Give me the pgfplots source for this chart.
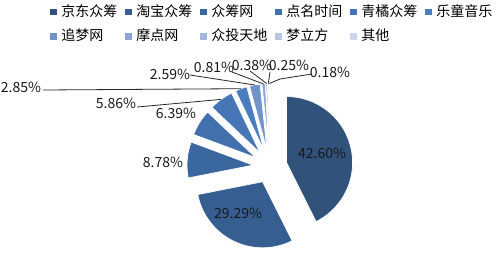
\documentclass[border=0pt]{standalone}
\usepackage{pgfplots}
\pgfplotsset{compat=1.18}
\usepackage{fontspec}
\setmainfont{Noto Sans CJK SC}
\definecolor{c1}{HTML}{31527A}
\definecolor{c2}{HTML}{365E90}
\definecolor{c3}{HTML}{3B679F}
\definecolor{c4}{HTML}{4170AC}
\definecolor{c5}{HTML}{4676B5}
\definecolor{c6}{HTML}{4A7DBF}
\definecolor{c7}{HTML}{7094C9}
\definecolor{c8}{HTML}{8CA6D3}
\definecolor{c9}{HTML}{A3B6DB}
\definecolor{c10}{HTML}{B8C6E3}
\definecolor{c11}{HTML}{CCD6EB}
\newcommand\cum{0}
% value, colour, name
\newcommand{\slice}[3]{%
  \pgfmathsetmacro{\sa}{90-3.6*\cum}%
  \pgfmathsetmacro{\ea}{90-3.6*(\cum+#1)}%
  \pgfmathsetmacro{\ma}{(\sa+\ea)/2}%
  \pgfmathsetmacro{\ox}{270+17*cos(\ma)}%
  \pgfmathsetmacro{\oy}{88.5+17*sin(\ma)}%
  \edef\temp{\noexpand\addplot[fill=#2, draw=white, line width=0.5pt, mark=none, domain=\ea:\sa, samples=60] ({\ox+66*cos(x)},{\oy+66*sin(x)}) -- (axis cs:\ox,\oy) -- cycle;}%
  \temp
  \addlegendentry{#3}%
  \pgfmathsetmacro{\newcum}{\cum+#1}%
  \xdef\cum{\newcum}%
}
\begin{document}
\begin{tikzpicture}
\begin{axis}[
  width=372pt, height=191.25pt, scale only axis,
  xmin=0, xmax=496, ymin=0, ymax=255,
  hide axis, clip=false,
  legend columns=6,
  legend cell align=left,
  legend image code/.code={\fill[#1,draw=none] (0pt,-3.2pt) rectangle (5.25pt,1.8pt);},
  legend style={at={(axis cs:50,251)}, anchor=north west, draw=none, fill=none, inner sep=0pt,
     nodes={inner sep=0pt, text width=43pt, align=left, font=\fontsize{10.5}{12}\selectfont},
     /tikz/every odd column/.style={column sep=3pt},
     /tikz/every even column/.style={column sep=5pt}, row sep=8pt},
]
\addplot[draw=none, mark=none, forget plot] coordinates {(0,0) (496,255)};
\slice{42.60}{c1}{京东众筹}
\slice{29.29}{c2}{淘宝众筹}
\slice{8.78}{c3}{众筹网}
\slice{6.39}{c4}{点名时间}
\slice{5.86}{c5}{青橘众筹}
\slice{2.85}{c6}{乐童音乐}
\slice{2.59}{c7}{追梦网}
\slice{0.81}{c8}{摩点网}
\slice{0.38}{c9}{众投天地}
\slice{0.25}{c10}{梦立方}
\slice{0.18}{c11}{其他}
% leader lines
\addplot[black!85, line width=0.6pt, mark=none, forget plot] coordinates {(43,165) (241,166.3)};
\addplot[black!85, line width=0.6pt, mark=none, forget plot] coordinates {(137,148) (221,155.6)};
\addplot[black!85, line width=0.6pt, mark=none, forget plot] coordinates {(190,180) (254.8,170)};
\addplot[black!85, line width=0.6pt, mark=none, forget plot] coordinates {(232,183) (263.6,171)};
\addplot[black!85, line width=0.6pt, mark=none, forget plot] coordinates {(250,184) (266.7,171.5)};
\addplot[black!85, line width=0.6pt, mark=none, forget plot] coordinates {(270,183) (268.3,171.5)};
\addplot[black!85, line width=0.6pt, mark=none, forget plot] coordinates {(269.4,171.5) (280,176) (312,181)};
% labels
\begin{scope}[every node/.style={font=\fontsize{10.5}{12}\selectfont, text=black!90, inner sep=0pt}]
\node at (axis cs:322,102) {42.60\%};
\node at (axis cs:238,42) {29.29\%};
\node at (axis cs:163,93) {8.78\%};
\node at (axis cs:176,142) {6.39\%};
\node at (axis cs:116,152) {5.86\%};
\node at (axis cs:21,168) {2.85\%};
\node at (axis cs:170,181) {2.59\%};
\node at (axis cs:214,188) {0.81\%};
\node at (axis cs:252,190) {0.38\%};
\node at (axis cs:289,190) {0.25\%};
\node at (axis cs:330,183) {0.18\%};
\end{scope}
\end{axis}
\end{tikzpicture}
\end{document}
